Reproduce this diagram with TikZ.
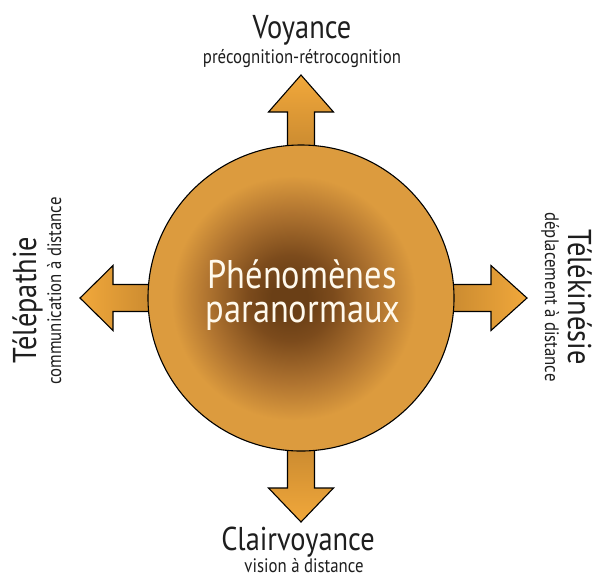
\documentclass[tikz,border=0pt]{standalone}
\usepackage{fontspec}
\setmainfont{PT Sans}[FakeStretch=0.86]
\definecolor{cedge}{HTML}{DC9B3E}
\definecolor{cmid}{HTML}{B07430}
\definecolor{cdark}{HTML}{6A3F16}
\definecolor{cdark2}{HTML}{7C4B1C}
\definecolor{atip}{HTML}{F1A83B}
\definecolor{abase}{HTML}{C6872F}
\definecolor{txt}{HTML}{1E1E1E}
\definecolor{cream}{HTML}{FFF9EC}
\pgfdeclareradialshading{ballshade}{\pgfpoint{-2bp}{0bp}}{color(0bp)=(cdark); color(3bp)=(cdark); color(7bp)=(cdark2); color(14bp)=(cmid); color(20bp)=(cedge); color(25bp)=(cedge); color(50bp)=(cedge)}
\tikzset{
  arrowshape/.style={draw=black, line width=1.1pt, line join=miter},
  title/.style={text=txt, inner sep=0pt, anchor=base, font=\fontsize{33}{33}\selectfont},
  subtitle/.style={text=txt, inner sep=0pt, anchor=base, font=\fontsize{19.5}{19.5}\selectfont},
  centertext/.style={text=cream, inner sep=0pt, anchor=base, font=\fontsize{40}{40}\selectfont},
}
\newcommand\myarrowpath[2]{(140,-13.5) -- (#1,-13.5) -- (#1,-32.5) -- (#2,0) -- (#1,32.5) -- (#1,13.5) -- (140,13.5) -- cycle}
\begin{document}
\begin{tikzpicture}[x=1pt,y=-1pt]
\useasboundingbox (0,0) rectangle (596,574);
\fill[white] (0,0) rectangle (596,574);
% arrows
\begin{scope}[shift={(301,298)}]
  \shade[arrowshape, left color=abase, right color=atip] \myarrowpath{190}{226};
  \shade[arrowshape, bottom color=abase, top color=atip, rotate=90] \myarrowpath{186}{223};
  \shade[arrowshape, right color=abase, left color=atip, rotate=180] \myarrowpath{188}{221};
  \shade[arrowshape, top color=abase, bottom color=atip, rotate=270] \myarrowpath{190}{224};
\end{scope}
% central ball
\node[circle, minimum size=306pt, inner sep=0pt, draw=black, line width=1.1pt, shading=ballshade] (ball) at (301,298) {};
\node[centertext] (c1) at (302,288) {Phénomènes};
\node[centertext] (c2) at (303,322) {paranormaux};
% labels
\node[title] (voy) at (302,38) {Voyance};
\node[subtitle] (voys) at (302,63) {précognition-rétrocognition};
\node[title] (clair) at (298,550) {Clairvoyance};
\node[subtitle] (clairs) at (304,572) {vision à distance};
\node[title, rotate=90] (tele) at (36,300) {Télépathie};
\node[subtitle, rotate=90] (teles) at (61,291) {communication à distance};
\node[title, rotate=-90] (telek) at (568,297) {Télékinésie};
\node[subtitle, rotate=-90] (teleks) at (545,297) {déplacement à distance};
\end{tikzpicture}
\end{document}
